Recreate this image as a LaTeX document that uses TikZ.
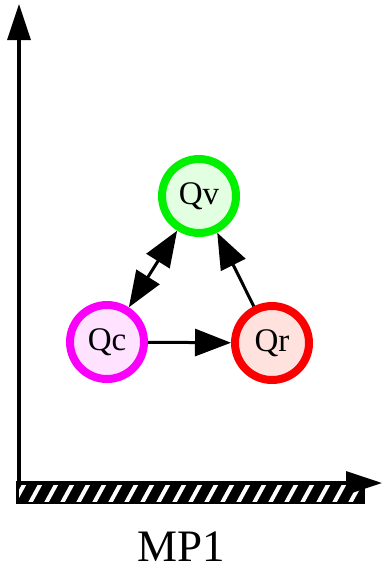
\documentclass[tikz,border=0pt]{standalone}
\usepackage{fontspec}
\setmainfont{Liberation Serif}
\usetikzlibrary{arrows.meta}
\definecolor{ringv}{RGB}{0,240,0}
\definecolor{fillv}{RGB}{226,255,226}
\definecolor{ringc}{RGB}{250,0,250}
\definecolor{fillc}{RGB}{255,226,255}
\definecolor{ringr}{RGB}{250,0,0}
\definecolor{fillr}{RGB}{255,226,222}
\tikzset{
  state/.style={circle, minimum size=74pt, inner sep=0pt, line width=8pt,
    font=\fontsize{33}{33}\selectfont},
  tip/.tip={Triangle[length=36pt,width=27pt]},
  link/.style={line width=3pt, -tip},
  biglink/.style={line width=3pt, tip-tip},
  axis/.style={line width=3.5pt, -{Triangle[length=36pt,width=23pt]}},
}
\begin{document}
\begin{tikzpicture}[x=1pt,y=-1pt]
  \useasboundingbox (0,0) rectangle (383,570);

  % states
  \node[state, draw=ringv, fill=fillv] (qv) at (199,196) {Qv};
  \node[state, draw=ringc, fill=fillc] (qc) at (107,342) {Qc};
  \node[state, draw=ringr, fill=fillr] (qr) at (272,343) {Qr};

  % transitions
  \draw[link] (qc) -- (qr);
  \draw[link] (qr) -- (qv);
  \draw[biglink] (qc) -- (qv);

  % hatched ground bar
  \fill[black] (16,481) rectangle (365,504);
  \begin{scope}
    \clip (19,485) rectangle (362,501);
    \foreach \i in {0,...,22}
      \draw[white, line width=4pt] ({14+\i*16},503) -- ++(11,-20);
  \end{scope}

  % axes
  \coordinate (origin) at (19,483);
  \coordinate (ytop) at (19,4);
  \coordinate (xend) at (382,483);
  \draw[axis] (origin) -- (ytop);
  \draw[axis] (origin) -- (xend);

  % caption
  \node[font=\fontsize{45}{45}\selectfont, inner sep=0pt, anchor=base] (caption) at (181,561) {MP1};
\end{tikzpicture}
\end{document}
